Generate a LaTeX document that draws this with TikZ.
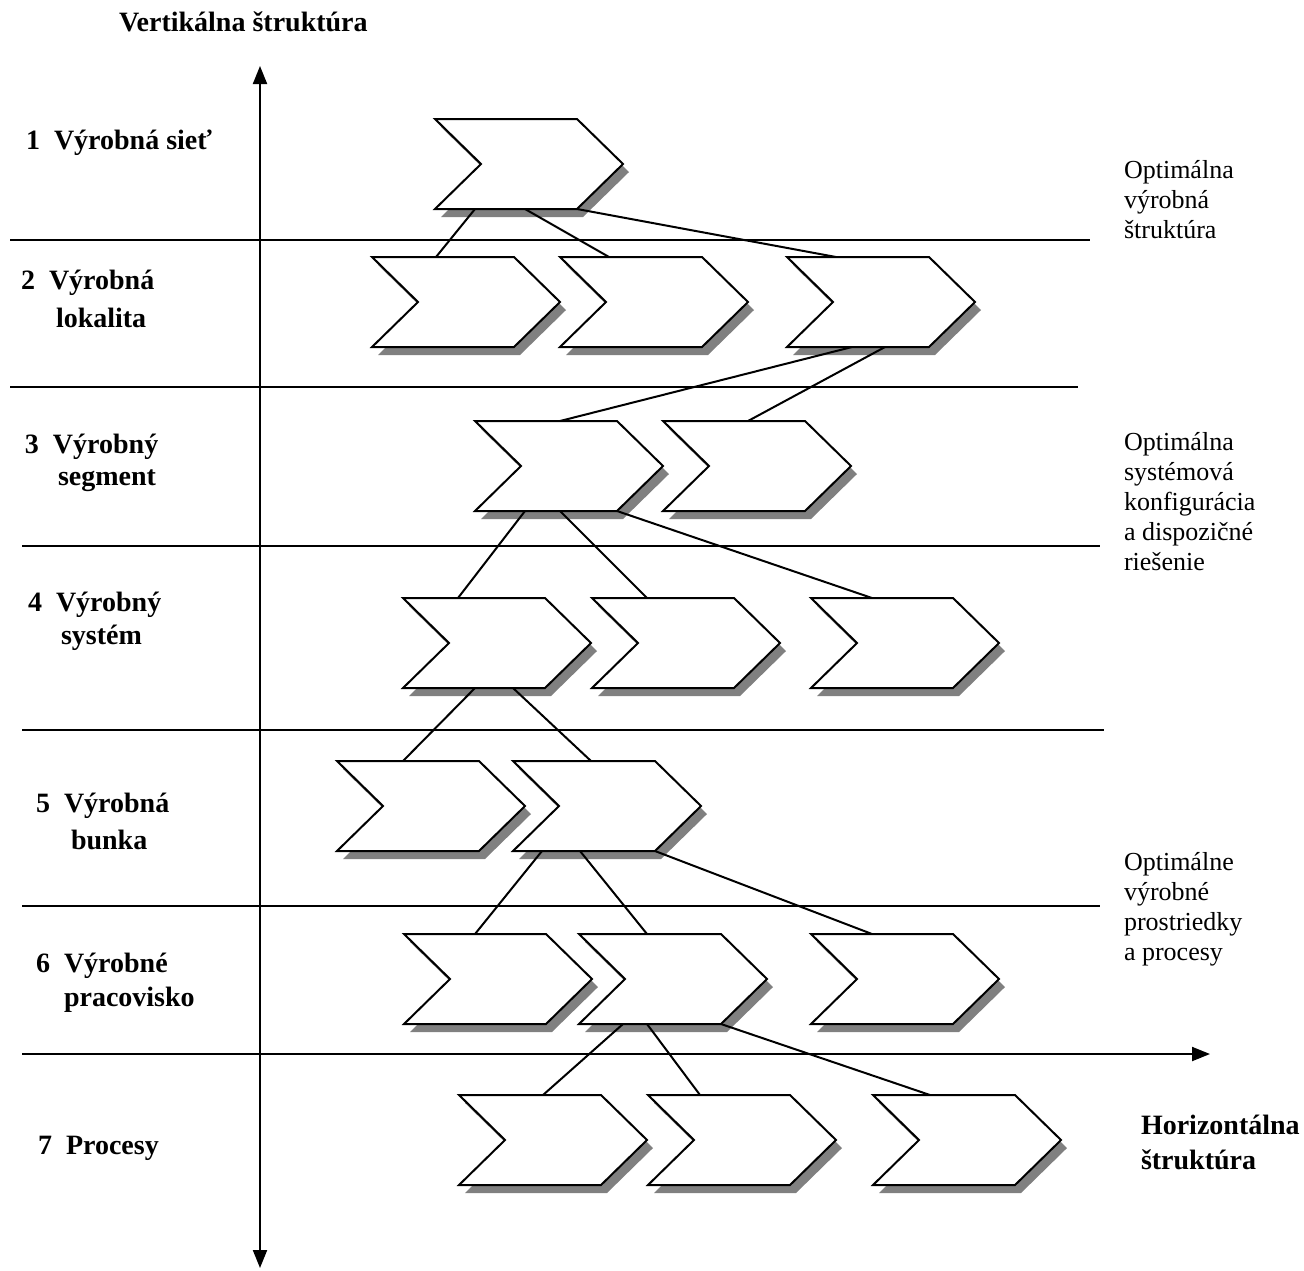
\documentclass[tikz,border=0pt]{standalone}
\usepackage{fontspec}
\setmainfont{Liberation Serif}
\usetikzlibrary{arrows.meta,calc}

\begin{document}
\begin{tikzpicture}[x=0.5pt,y=-0.5pt,line width=1pt,
    >={Triangle[width=7pt,length=9pt]},
    chev/.style={anchor=north west,minimum width=94pt,minimum height=45pt,
                 inner sep=0pt,outer sep=0pt},
    shade/.style={fill=black!50,draw=none},
    level/.style={anchor=west,inner sep=0pt,font=\fontsize{14}{17.5}\selectfont\bfseries},
    note/.style={anchor=north west,align=left,inner sep=0pt,font=\fontsize{13}{15}\selectfont}]

  \useasboundingbox (0,0) rectangle (1304,1270);

  % levels of the structure
  \node[chev] (net)   at (435,119)  {};
  \node[chev] (loc1)  at (372,257)  {};
  \node[chev] (loc2)  at (560,257)  {};
  \node[chev] (loc3)  at (787,257)  {};
  \node[chev] (seg1)  at (475,421)  {};
  \node[chev] (seg2)  at (663,421)  {};
  \node[chev] (sys1)  at (403,598)  {};
  \node[chev] (sys2)  at (592,598)  {};
  \node[chev] (sys3)  at (811,598)  {};
  \node[chev] (cell1) at (337,761)  {};
  \node[chev] (cell2) at (513,761)  {};
  \node[chev] (ws1)   at (404,934)  {};
  \node[chev] (ws2)   at (579,934)  {};
  \node[chev] (ws3)   at (811,934)  {};
  \node[chev] (proc1) at (459,1095) {};
  \node[chev] (proc2) at (648,1095) {};
  \node[chev] (proc3) at (873,1095) {};

  \foreach \n in {net,loc1,loc2,loc3,seg1,seg2,sys1,sys2,sys3,
                  cell1,cell2,ws1,ws2,ws3,proc1,proc2,proc3} {
    \fill[shade] ($(\n.north west)+(6,8)$) -- ($(\n.north east)+(-40,8)$)
      -- ($(\n.east)+(6,8)$) -- ($(\n.south east)+(-40,8)$)
      -- ($(\n.south west)+(6,8)$) -- ($(\n.west)+(52,8)$) -- cycle;
    \draw[fill=white] (\n.north west) -- ($(\n.north east)+(-46,0)$)
      -- (\n.east) -- ($(\n.south east)+(-46,0)$)
      -- (\n.south west) -- ($(\n.west)+(46,0)$) -- cycle;
  }

  % separators
  \foreach \y/\a/\b in {240/10/1090,387/10/1078,546/22/1100,730/22/1104,906/22/1100}
    \draw (\a,\y) -- (\b,\y);

  % axes
  \coordinate (vtop) at (260,66);
  \coordinate (vbot) at (260,1268);
  \coordinate (hleft) at (22,1054);
  \coordinate (hright) at (1210,1054);
  \draw[<->] (vtop) -- (vbot);
  \draw[->] (hleft) -- (hright);

  % links
  \draw ($(net.south west)+(40,0)$) -- ($(loc1.north west)+(64,0)$)
        ($(net.south west)+(90,0)$) -- ($(loc2.north west)+(49,0)$)
        ($(net.south east)+(-46,0)$) -- ($(loc3.north west)+(49,0)$);
  \draw ($(loc3.south west)+(65,0)$) -- ($(seg1.north west)+(85,0)$)
        ($(loc3.south west)+(98,0)$) -- ($(seg2.north west)+(85,0)$);
  \draw ($(seg1.south west)+(50,0)$) -- ($(sys1.north west)+(55,0)$)
        ($(seg1.south west)+(85,0)$) -- ($(sys2.north west)+(55,0)$)
        ($(seg1.south east)+(-46,0)$) -- ($(sys3.north west)+(61,0)$);
  \draw ($(sys1.south west)+(72,0)$) -- ($(cell1.north west)+(66,0)$)
        ($(sys1.south west)+(110,0)$) -- ($(cell2.north west)+(78,0)$);
  \draw ($(cell2.south west)+(29,0)$) -- ($(ws1.north west)+(71,0)$)
        ($(cell2.south west)+(67,0)$) -- ($(ws2.north west)+(68,0)$)
        ($(cell2.south east)+(-46,0)$) -- ($(ws3.north west)+(61,0)$);
  \draw ($(ws2.south west)+(44,0)$) -- ($(proc1.north west)+(84,0)$)
        ($(ws2.south west)+(68,0)$) -- ($(proc2.north west)+(52,0)$)
        ($(ws2.south east)+(-46,0)$) -- ($(proc3.north west)+(57,0)$);

  % labels
  \node[level] (vlabel) at (118,22)  {Vertikálna štruktúra};
  \node[level] (lev1)   at (25,143)  {1\ \ Výrobná sieť};
  \node[level] (lev2)   at (20,283)  {2\ \ Výrobná};
  \node[level] (lev2b)  at (55,318)  {lokalita};
  \node[level] (lev3)   at (24,447)  {3\ \ Výrobný};
  \node[level] (lev3b)  at (57,481)  {segment};
  \node[level] (lev4)   at (27,605)  {4\ \ Výrobný};
  \node[level] (lev4b)  at (60,638)  {systém};
  \node[level] (lev5)   at (35,806)  {5\ \ Výrobná};
  \node[level] (lev5b)  at (70,840)  {bunka};
  \node[level] (lev6)   at (35,966)  {6\ \ Výrobné};
  \node[level] (lev6b)  at (63,1000) {pracovisko};
  \node[level] (lev7)   at (37,1148) {7\ \ Procesy};
  \node[level,anchor=north west,align=left] (hlabel) at (1140,1114)
    {Horizontálna\\štruktúra};

  \node[note] (opt1) at (1123,159) {Optimálna\\výrobná\\štruktúra};
  \node[note] (opt2) at (1123,431) {Optimálna\\systémová\\konfigurácia\\a dispozičné\\riešenie};
  \node[note] (opt3) at (1123,851) {Optimálne\\výrobné\\prostriedky\\a procesy};

\end{tikzpicture}
\end{document}
